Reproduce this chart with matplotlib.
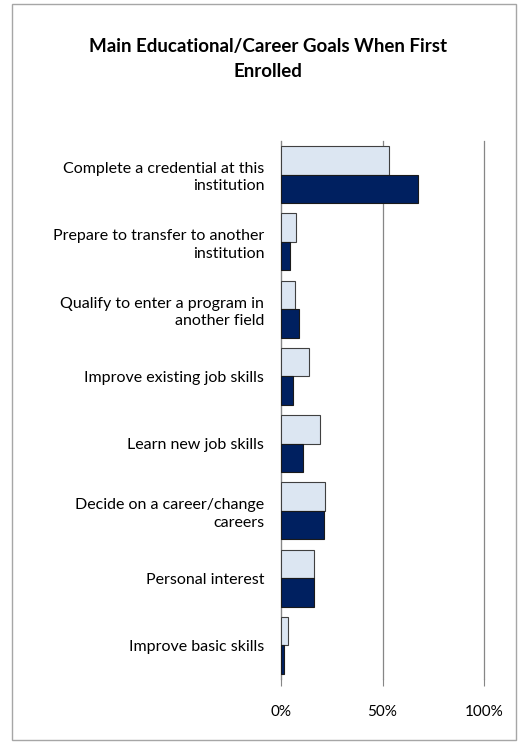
import matplotlib.pyplot as plt
import matplotlib.patches as patches
import numpy as np

plt.rcParams['font.family'] = ['Lato', 'DejaVu Sans']

categories = ["Complete a credential at this\ninstitution",
              "Prepare to transfer to another\ninstitution",
              "Qualify to enter a program in\nanother field",
              "Improve existing job skills",
              "Learn new job skills",
              "Decide on a career/change\ncareers",
              "Personal interest",
              "Improve basic skills"]
series_light = [53.3, 7.5, 6.7, 13.8, 19.4, 21.8, 16.3, 3.6]
series_dark = [67.6, 4.3, 8.7, 5.9, 10.8, 21.2, 16.3, 1.5]
xticks = [0, 50, 100]
xtick_labels = ["0%", "50%", "100%"]

fig = plt.figure(figsize=(5.22, 7.44), dpi=100)
fig.patches.append(patches.Rectangle((12 / 522, 4 / 744), 504 / 522, 736 / 744,
                                     transform=fig.transFigure, fill=False,
                                     edgecolor='#a6a6a6', linewidth=1.0))

ax = fig.add_axes([281 / 522, 65 / 744, 203 / 522, 538 / 744])

y = np.arange(len(categories))
h = 0.425
ax.barh(y - h / 2, series_light, height=h, color='#dce6f2',
        edgecolor='#404040', linewidth=0.8, zorder=3)
ax.barh(y + h / 2, series_dark, height=h, color='#002060',
        edgecolor='#1a1a1a', linewidth=0.8, zorder=3)

ax.set_ylim(len(categories) - 0.5, -0.5)
ax.set_xlim(0, 100)
ax.set_yticks(y)
ax.set_yticklabels(categories, fontsize=11.5, linespacing=1.3)
ax.tick_params(axis='y', length=0, pad=12)
ax.set_xticks(xticks)
ax.set_xticklabels(xtick_labels, fontsize=11)
ax.tick_params(axis='x', length=5, color='#868686', pad=14)

ax.grid(axis='x', color='#868686', linewidth=0.9, zorder=0)
for line in ax.get_xgridlines():
    line.set_clip_on(False)
for s in ['top', 'right', 'bottom']:
    ax.spines[s].set_visible(False)
ax.spines['left'].set_color('#868686')

fig.text(268 / 522, 1 - 59 / 744, "Main Educational/Career Goals When First\nEnrolled",
         ha='center', va='center', fontsize=13.5, fontweight='bold', linespacing=1.6)

fig.savefig("out.png", dpi=100)
